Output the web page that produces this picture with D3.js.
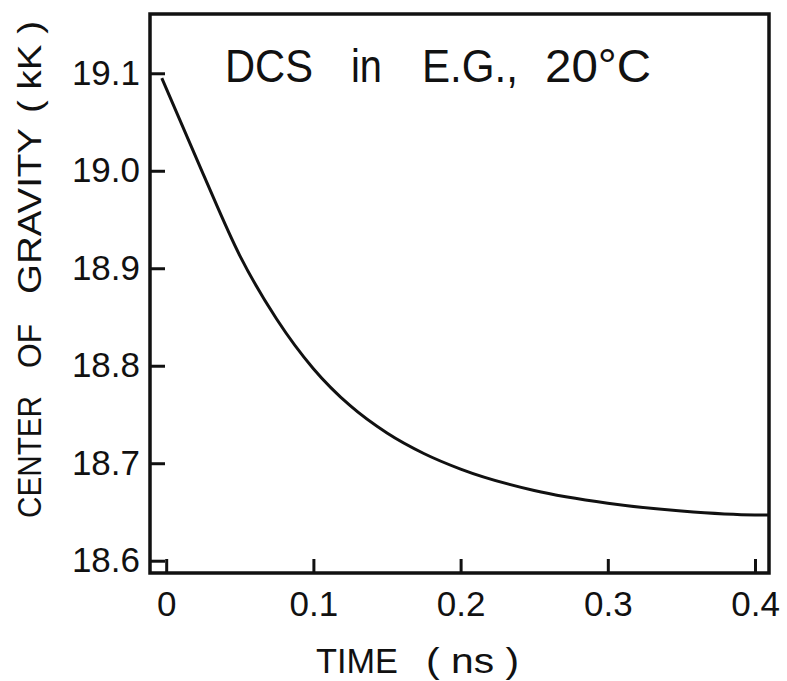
<!DOCTYPE html>
<html>
<head>
<meta charset="utf-8">
<script src="https://cdn.jsdelivr.net/npm/d3@7/dist/d3.min.js"></script>
<style>
  html, body { margin: 0; padding: 0; background: #fff; }
  svg { display: block; }
  text { font-family: "Liberation Sans", Arial, sans-serif; fill: #111; }
</style>
</head>
<body>
<script>
// Center of gravity of the fluorescence band vs. time
const timeNs   = [-0.003, 0.025, 0.05, 0.075, 0.1, 0.125, 0.15, 0.175, 0.2, 0.25, 0.3, 0.35, 0.4, 0.409];
const centerKK = [19.095, 18.997, 18.913, 18.848, 18.797, 18.759, 18.731, 18.71, 18.694, 18.672, 18.659, 18.651, 18.647, 18.647];

const xTicks = [0, 0.1, 0.2, 0.3, 0.4];
const yTicks = [18.6, 18.7, 18.8, 18.9, 19.0, 19.1];

const titleWords = ["DCS", "in", "E.G.,", "20°C"];
const xLabelWords = ["TIME", "( ns )"];
const yLabelWords = ["CENTER", "OF", "GRAVITY", "( kK )"];

const W = 787, H = 681;
const frame = { left: 150, top: 14, right: 769, bottom: 573 };

const svg = d3.select("body").append("svg")
  .attr("width", W).attr("height", H);

const x = d3.scaleLinear().domain([-0.011, 0.4095]).range([frame.left, frame.right]);
const y = d3.scaleLinear().domain([18.5874, 19.1608]).range([frame.bottom, frame.top]);

const ink = "#111";

// Axes with inward ticks
const xAxis = d3.axisBottom(x)
  .tickValues(xTicks)
  .tickSizeInner(-14).tickSizeOuter(0).tickPadding(18)
  .tickFormat(d => d === 0 ? "0" : d3.format(".1f")(d));

const yAxis = d3.axisLeft(y)
  .tickValues(yTicks)
  .tickSizeInner(-15).tickSizeOuter(0).tickPadding(10)
  .tickFormat(d3.format(".1f"));

const gx = svg.append("g")
  .attr("transform", `translate(0,${frame.bottom})`)
  .call(xAxis);
const gy = svg.append("g")
  .attr("transform", `translate(${frame.left},0)`)
  .call(yAxis);

[gx, gy].forEach(g => {
  g.select(".domain").remove();
  g.selectAll(".tick line").attr("stroke", ink).attr("stroke-width", 3);
  g.selectAll(".tick text")
    .attr("fill", ink)
    .style("font-family", '"Liberation Sans", Arial, sans-serif')
    .style("font-size", "35px");
});

// Plot frame
svg.append("rect")
  .attr("x", frame.left).attr("y", frame.top)
  .attr("width", frame.right - frame.left)
  .attr("height", frame.bottom - frame.top)
  .attr("fill", "none")
  .attr("stroke", ink)
  .attr("stroke-width", 3.5);

// Decay curve
const line = d3.line()
  .x((d, i) => x(timeNs[i]))
  .y(d => y(d))
  .curve(d3.curveMonotoneX);

svg.append("path")
  .datum(centerKK)
  .attr("d", line)
  .attr("fill", "none")
  .attr("stroke", ink)
  .attr("stroke-width", 3);

// Title inside the frame
const titlePos = [[225, 88], [351, 31], [422, 96], [545, 106]];
const title = svg.append("text")
  .attr("y", 82)
  .style("font-size", "46px");
title.selectAll("tspan")
  .data(titleWords)
  .join("tspan")
  .attr("x", (d, i) => titlePos[i][0])
  .attr("textLength", (d, i) => titlePos[i][1])
  .attr("lengthAdjust", "spacingAndGlyphs")
  .text(d => d);

// x axis label
const xLabelPos = [[316, 82], [426, 93]];
const xl = svg.append("text")
  .attr("y", 673)
  .style("font-size", "35px");
xl.selectAll("tspan")
  .data(xLabelWords)
  .join("tspan")
  .attr("x", (d, i) => xLabelPos[i][0])
  .attr("textLength", (d, i) => xLabelPos[i][1])
  .attr("lengthAdjust", "spacingAndGlyphs")
  .text(d => d);

// y axis label (rotated)
const yLabelPos = [[518, 122], [368, 44], [294, 166], [113, 92]];
const yl = svg.append("text")
  .attr("transform", "translate(41,0) rotate(-90)")
  .style("font-size", "33px");
yl.selectAll("tspan")
  .data(yLabelWords)
  .join("tspan")
  .attr("x", (d, i) => -yLabelPos[i][0])
  .attr("textLength", (d, i) => yLabelPos[i][1])
  .attr("lengthAdjust", "spacingAndGlyphs")
  .text(d => d);
</script>
</body>
</html>
